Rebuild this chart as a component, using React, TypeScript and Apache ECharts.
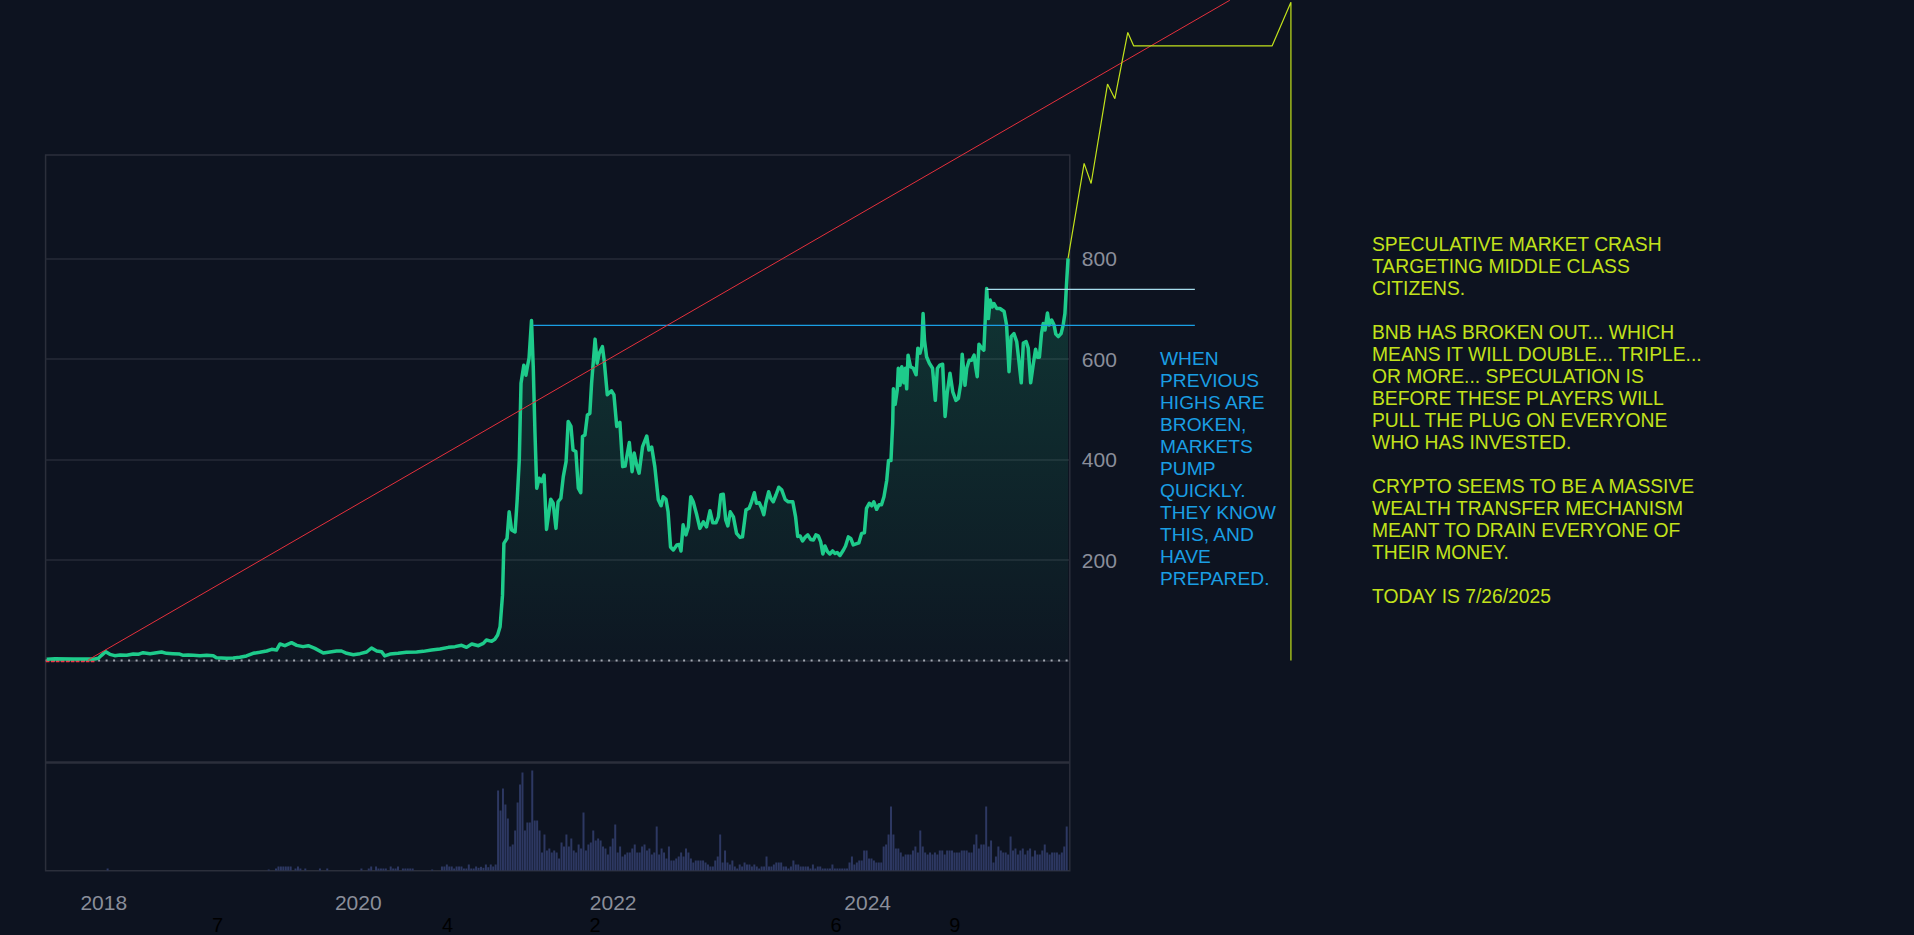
import React, { useEffect, useRef } from 'react';
import * as echarts from 'echarts';

// ---------- DATA ----------
const X_RANGE = ['2017-07-21', '2025-07-31'];
const DRAWING_X_MAX = '2027-07-31';

const PRICE_2017_2020: [string, number][] = [
  ['2017-07-24', 2.1], ['2017-08-17', 3.5], ['2017-10-08', 2.8], ['2017-12-09', 2.8], ['2017-12-19', 4.1], ['2017-12-28', 10.1],
  ['2018-01-09', 17.4], ['2018-01-21', 12.1], ['2018-02-04', 9.4], ['2018-02-19', 10.8], ['2018-03-10', 10.1], ['2018-03-29', 12.7],
  ['2018-04-12', 12.1], ['2018-04-26', 15.4], ['2018-05-16', 13.4], ['2018-05-30', 14.7], ['2018-06-18', 16.7], ['2018-07-02', 14.1],
  ['2018-07-21', 13.4], ['2018-08-09', 12.7], ['2018-08-19', 10.1], ['2018-09-02', 10.8], ['2018-09-17', 10.1], ['2018-10-06', 9.4],
  ['2018-10-25', 10.1], ['2018-11-13', 9.4], ['2018-11-22', 5.4], ['2018-12-21', 4.1],
  ['2019-01-09', 4.8], ['2019-01-28', 6.1], ['2019-02-16', 8.8], ['2019-03-07', 14.1], ['2019-03-26', 16.1], ['2019-04-15', 18.7],
  ['2019-04-29', 22], ['2019-05-13', 20.7], ['2019-05-23', 32.7], ['2019-06-06', 29.3], ['2019-06-25', 35.3], ['2019-07-10', 30],
  ['2019-07-28', 27.4], ['2019-08-12', 29.3], ['2019-08-31', 24], ['2019-09-24', 14.7], ['2019-10-13', 16.7], ['2019-11-01', 18.7],
  ['2019-11-15', 18.7], ['2019-11-30', 14.1], ['2019-12-19', 11.4],
  ['2020-01-07', 13.4], ['2020-01-26', 16.7], ['2020-02-09', 24.7], ['2020-02-24', 18.7], ['2020-03-09', 17.4], ['2020-03-18', 8.8],
  ['2020-04-02', 12.7], ['2020-04-25', 14.1], ['2020-05-19', 16.1], ['2020-06-17', 16.7], ['2020-07-06', 18], ['2020-07-30', 20.7],
  ['2020-08-23', 22.7], ['2020-09-16', 26], ['2020-10-05', 27.4], ['2020-10-24', 30], ['2020-11-07', 26], ['2020-11-22', 32.7],
  ['2020-12-11', 29.3], ['2020-12-25', 34],
];

const PRICE_2021: [string, number][] = [
  ['2021-01-03', 40.6], ['2021-01-18', 38], ['2021-01-27', 42], ['2021-02-04', 50.6], ['2021-02-11', 67], ['2021-02-18', 130],
  ['2021-02-22', 233], ['2021-03-03', 243], ['2021-03-09', 296], ['2021-03-16', 260], ['2021-03-26', 256], ['2021-04-01', 320],
  ['2021-04-07', 399], ['2021-04-12', 552], ['2021-04-20', 588], ['2021-04-26', 568], ['2021-05-01', 588], ['2021-05-05', 602],
  ['2021-05-12', 677], ['2021-05-17', 585], ['2021-05-22', 452], ['2021-05-27', 343], ['2021-06-03', 363], ['2021-06-10', 356],
  ['2021-06-17', 369], ['2021-06-24', 261], ['2021-07-06', 321], ['2021-07-13', 313], ['2021-07-21', 263], ['2021-07-27', 316],
  ['2021-08-04', 323], ['2021-08-11', 366], ['2021-08-19', 396], ['2021-08-25', 476], ['2021-09-02', 466], ['2021-09-08', 419],
  ['2021-09-16', 416], ['2021-09-23', 343], ['2021-09-30', 334], ['2021-10-05', 446], ['2021-10-12', 449], ['2021-10-19', 489],
  ['2021-10-26', 492], ['2021-10-31', 552], ['2021-11-10', 640], ['2021-11-16', 592], ['2021-11-22', 612], ['2021-12-01', 625],
  ['2021-12-06', 598], ['2021-12-15', 529], ['2021-12-27', 537],
];

const PRICE_2022: [string, number][] = [
  ['2022-01-03', 529], ['2022-01-11', 466], ['2022-01-20', 474], ['2022-01-28', 386], ['2022-02-04', 387], ['2022-02-16', 434],
  ['2022-02-24', 376], ['2022-03-02', 413], ['2022-03-09', 389], ['2022-03-16', 373], ['2022-03-26', 426], ['2022-04-07', 447],
  ['2022-04-13', 419], ['2022-04-21', 425], ['2022-04-30', 386], ['2022-05-10', 320], ['2022-05-18', 308], ['2022-05-24', 326],
  ['2022-06-01', 321], ['2022-06-07', 296], ['2022-06-14', 226], ['2022-06-22', 220], ['2022-07-02', 230], ['2022-07-09', 231],
  ['2022-07-14', 218], ['2022-07-20', 270], ['2022-07-28', 250], ['2022-08-04', 266], ['2022-08-11', 326], ['2022-08-18', 316],
  ['2022-08-28', 290], ['2022-09-06', 263], ['2022-09-16', 276], ['2022-09-25', 266], ['2022-10-05', 298], ['2022-10-13', 274],
  ['2022-10-22', 274], ['2022-10-29', 286], ['2022-11-05', 330], ['2022-11-12', 331], ['2022-11-19', 280], ['2022-11-25', 268],
  ['2022-12-02', 296], ['2022-12-11', 286], ['2022-12-20', 253], ['2022-12-30', 245],
];

const PRICE_2023: [string, number][] = [
  ['2023-01-06', 246], ['2023-01-16', 300], ['2023-01-25', 303], ['2023-02-01', 316], ['2023-02-09', 334], ['2023-02-15', 313],
  ['2023-02-23', 314], ['2023-03-02', 303], ['2023-03-08', 290], ['2023-03-14', 314], ['2023-03-22', 336], ['2023-03-28', 323],
  ['2023-04-04', 316], ['2023-04-12', 330], ['2023-04-20', 345], ['2023-04-28', 340], ['2023-05-08', 321], ['2023-05-17', 316],
  ['2023-05-30', 316], ['2023-06-07', 286], ['2023-06-13', 247], ['2023-06-20', 248], ['2023-06-27', 238], ['2023-07-04', 245],
  ['2023-07-12', 250], ['2023-07-20', 241], ['2023-07-28', 240], ['2023-08-04', 250], ['2023-08-11', 248], ['2023-08-18', 236],
  ['2023-08-24', 212], ['2023-08-30', 228], ['2023-09-06', 217], ['2023-09-13', 212], ['2023-09-21', 218], ['2023-09-28', 213],
  ['2023-10-04', 215], ['2023-10-12', 209], ['2023-10-22', 220], ['2023-10-28', 228], ['2023-11-05', 246], ['2023-11-12', 243],
  ['2023-11-19', 230], ['2023-11-27', 232], ['2023-12-05', 234], ['2023-12-13', 253], ['2023-12-21', 254], ['2023-12-27', 303],
];

const PRICE_2024: [string, number][] = [
  ['2024-01-04', 313], ['2024-01-11', 308], ['2024-01-17', 316], ['2024-01-25', 301], ['2024-02-01', 310], ['2024-02-08', 310],
  ['2024-02-15', 326], ['2024-02-23', 359], ['2024-02-28', 398], ['2024-03-06', 398], ['2024-03-11', 472], ['2024-03-13', 541],
  ['2024-03-18', 510], ['2024-03-24', 538], ['2024-03-27', 582], ['2024-04-01', 548], ['2024-04-06', 585], ['2024-04-12', 553],
  ['2024-04-16', 582], ['2024-04-20', 541], ['2024-04-24', 608], ['2024-05-01', 585], ['2024-05-09', 582], ['2024-05-17', 569],
  ['2024-05-22', 622], ['2024-05-28', 612], ['2024-06-02', 625], ['2024-06-06', 691], ['2024-06-10', 638], ['2024-06-16', 605],
  ['2024-06-24', 592], ['2024-07-03', 582], ['2024-07-11', 518], ['2024-07-17', 582], ['2024-07-24', 588], ['2024-08-01', 590],
  ['2024-08-08', 486], ['2024-08-14', 532], ['2024-08-22', 572], ['2024-08-30', 535], ['2024-09-08', 518], ['2024-09-15', 522],
  ['2024-09-22', 552], ['2024-09-26', 610], ['2024-10-04', 548], ['2024-10-09', 582], ['2024-10-16', 598], ['2024-10-23', 598],
  ['2024-10-30', 608], ['2024-11-04', 582], ['2024-11-08', 565], ['2024-11-13', 630], ['2024-11-21', 622], ['2024-11-27', 618],
  ['2024-12-02', 695], ['2024-12-05', 741], ['2024-12-10', 681], ['2024-12-15', 718], ['2024-12-21', 704], ['2024-12-26', 711],
];

const PRICE_2025: [string, number][] = [
  ['2025-01-03', 701], ['2025-01-12', 701], ['2025-01-24', 695], ['2025-01-31', 668], ['2025-02-07', 575], ['2025-02-13', 645],
  ['2025-02-21', 651], ['2025-03-01', 635], ['2025-03-08', 592], ['2025-03-14', 553], ['2025-03-20', 632], ['2025-03-28', 635],
  ['2025-04-03', 622], ['2025-04-10', 553], ['2025-04-17', 588], ['2025-04-24', 620], ['2025-04-29', 604], ['2025-05-05', 604],
  ['2025-05-11', 651], ['2025-05-16', 671], ['2025-05-21', 658], ['2025-05-28', 692], ['2025-06-02', 668], ['2025-06-09', 678],
  ['2025-06-16', 668], ['2025-06-21', 650], ['2025-06-28', 645], ['2025-07-06', 651], ['2025-07-12', 668], ['2025-07-17', 691],
  ['2025-07-22', 754], ['2025-07-26', 801],
];

// weekly volume bars (relative units), first bar on VOLUME_START
const VOLUME_START = '2017-07-21';
const VOLUME_2017_2020 = [
  0, 0, 0, 0, 0, 0, 0, 0, 0, 0,
  0, 0, 0, 0, 0, 0, 0, 0, 0, 0,
  0, 0, 0, 0, 0, 2, 0, 0, 0, 0,
  0, 0, 0, 0, 0, 0, 0, 0, 0, 0,
  0, 0, 0, 0, 0, 0, 0, 0, 0, 0,
  0, 0, 0, 0, 0, 0, 0, 0, 0, 0,
  0, 0, 0, 0, 0, 0, 0, 0, 0, 0,
  0, 0, 0, 0, 0, 0, 0, 0, 0, 0,
  0, 0, 0, 0, 0, 0, 0, 0, 0, 0,
  0, 1, 0, 0, 2, 4, 4, 4, 4, 4,
  4, 0, 2, 4, 2, 0, 2, 0, 0, 0,
  0, 0, 2, 0, 0, 2, 0, 0, 0, 0,
  0, 0, 0, 0, 0, 0, 0, 0, 0, 2,
  0, 0, 2, 4, 0, 4, 2, 2, 2, 2,
  0, 4, 2, 2, 4, 0, 2, 2, 2, 2,
  2, 0, 0, 0, 0, 0, 0, 0, 1, 0,
  0, 0, 4, 4, 6, 4, 4, 2, 4, 4,
  4, 2, 2, 6, 2, 2, 4,
];
const VOLUME_2021_2023 = [
  2.7, 3.7, 2.7, 6, 3.3, 6, 4, 6, 80, 60,
  82, 66, 52, 24, 26, 40, 68, 86, 98, 40,
  48, 48, 100, 50, 50, 40, 18, 36, 20, 22,
  18, 20, 18, 12, 28, 24, 36, 24, 32, 20,
  18, 26, 22, 58, 20, 26, 28, 40, 30, 32,
  30, 24, 22, 16, 24, 32, 46, 18, 24, 14,
  16, 18, 18, 22, 26, 18, 18, 24, 26, 20,
  22, 16, 18, 44, 16, 22, 18, 12, 24, 10,
  10, 12, 14, 18, 14, 22, 18, 12, 8, 10,
  10, 10, 10, 8, 6, 4, 4, 10, 14, 36,
  8, 20, 8, 6, 10, 4, 2, 6, 4, 8,
  6, 6, 4, 6, 4, 2, 4, 4, 14, 4,
  4, 6, 8,
];
const VOLUME_2023_2025 = [
  8, 8, 4, 4, 2, 4, 10, 6, 6, 4,
  4, 4, 4, 2, 6, 2, 4, 4, 2, 2,
  2, 2, 6, 2, 2, 2, 2, 2, 2, 8,
  14, 6, 8, 10, 10, 20, 20, 12, 12, 10,
  8, 8, 8, 24, 26, 36, 64, 36, 22, 22,
  18, 14, 16, 16, 16, 20, 24, 18, 40, 24,
  18, 16, 18, 16, 18, 16, 20, 20, 16, 20,
  20, 20, 18, 18, 18, 20, 20, 20, 18, 18,
  26, 36, 22, 26, 26, 64, 24, 30, 8, 14,
  24, 20, 18, 18, 16, 34, 20, 22, 16, 20,
  22, 16, 20, 22, 14, 20, 16, 16, 20, 26,
  18, 16, 18, 18, 18, 16, 18, 24, 44,
];

// drawings
const TREND_LINE: [string, number][] = [['2017-11-20', 1], ['2026-11-01', 1315]];
const START_MARK: [string, number][] = [['2017-07-22', -1.2], ['2017-12-09', -1.2]];
const PREVIOUS_HIGH: [string, number][] = [['2021-05-17', 667.5], ['2026-07-24', 667.5]];
const RECENT_HIGH: [string, number][] = [['2024-12-05', 739], ['2026-07-24', 739]];
const PROJECTION: [string, number][] = [
  ['2025-07-26', 801], ['2025-09-10', 990], ['2025-09-30', 950], ['2025-11-16', 1148], ['2025-12-07', 1119],
  ['2026-01-13', 1251], ['2026-01-30', 1224], ['2027-03-02', 1224], ['2027-04-25', 1311], ['2027-04-25', 0],
];

const PRICE_MIN = -200;
const PRICE_MAX = 1000;
const PRICE_STEP = 200;
const VOLUME_MAX = 107;

const NOTE_BLUE = [
  'WHEN', 'PREVIOUS', 'HIGHS ARE', 'BROKEN,', 'MARKETS', 'PUMP', 'QUICKLY.', 'THEY KNOW', 'THIS, AND', 'HAVE', 'PREPARED.',
];
const NOTE_YELLOW = [
  'SPECULATIVE MARKET CRASH', 'TARGETING MIDDLE CLASS', 'CITIZENS.', '',
  'BNB HAS BROKEN OUT... WHICH', 'MEANS IT WILL DOUBLE... TRIPLE...', 'OR MORE... SPECULATION IS',
  'BEFORE THESE PLAYERS WILL', 'PULL THE PLUG ON EVERYONE', 'WHO HAS INVESTED.', '',
  'CRYPTO SEEMS TO BE A MASSIVE', 'WEALTH TRANSFER MECHANISM', 'MEANT TO DRAIN EVERYONE OF', 'THEIR MONEY.', '',
  'TODAY IS 7/26/2025',
];
const MARKER_TEXTS = ['7', '4', '2', '6', '9'];

// ---------- STYLE ----------
const BG = '#0D1320';
const GRID_COLOR = '#262B37';
const BORDER_COLOR = '#2B2F3B';
const LABEL_COLOR = '#8A8E9A';
const GREEN = '#1ECB8B';
const BLUE = '#1A9EE3';
const YELLOW = '#C2E21B';
const FONT = '"Liberation Sans", Arial, Helvetica, sans-serif';
const MARKER_X = [217.5, 447.6, 595, 836, 954.8];

function toTs(s: string): number {
  const [y, m, d] = s.split('-').map(Number);
  return new Date(y, m - 1, d).getTime();
}
const pts = (arr: [string, number][]) => arr.map(([d, v]) => [toTs(d), v]);

export default function App() {
  const ref = useRef<HTMLDivElement>(null);

  useEffect(() => {
    if (!ref.current) return;
    const chart = echarts.init(ref.current, undefined, { renderer: 'svg' });

    const price = pts([...PRICE_2017_2020, ...PRICE_2021, ...PRICE_2022, ...PRICE_2023, ...PRICE_2024, ...PRICE_2025]);
    const volumeValues = [...VOLUME_2017_2020, ...VOLUME_2021_2023, ...VOLUME_2023_2025];
    const v0 = toTs(VOLUME_START);
    const volume = volumeValues.map((v, i) => [v0 + i * 7 * 86400000, v]);
    const xMin = toTs(X_RANGE[0]);
    const xMax = toTs(X_RANGE[1]);
    const xMaxDraw = toTs(DRAWING_X_MAX);

    const gridLeft = 45.6;
    const gridWidth = 1024.2;
    const priceTop = 158.4;
    const priceHeight = 602.4;
    // drawing layer: same scale as the price pane, extended to the right
    const drawWidth = (gridWidth * (xMaxDraw - xMin)) / (xMax - xMin);

    const lineSeries = (data: number[][], color: string, width: number, z: number, extra: any = {}, axis = 2) => ({
      type: 'line',
      xAxisIndex: axis,
      yAxisIndex: axis,
      data,
      symbol: 'none',
      silent: true,
      clip: false,
      z,
      lineStyle: { color, width, ...extra },
    });

    const option: any = {
      animation: false,
      backgroundColor: BG,
      grid: [
        { left: gridLeft, width: gridWidth, top: priceTop, height: priceHeight, show: false },
        { left: gridLeft, width: gridWidth, top: 763.5, height: 107, show: false },
        { left: gridLeft, width: drawWidth, top: priceTop, height: priceHeight, show: false },
      ],
      xAxis: [
        {
          type: 'time', gridIndex: 0, min: xMin, max: xMax,
          axisLine: { show: false }, axisTick: { show: false }, axisLabel: { show: false }, splitLine: { show: false },
        },
        {
          type: 'time', gridIndex: 1, min: xMin, max: xMax,
          axisLine: { show: false }, axisTick: { show: false }, splitLine: { show: false },
          axisLabel: {
            color: LABEL_COLOR, fontSize: 21, fontFamily: FONT, margin: 21, hideOverlap: false,
            formatter: (val: number) => {
              const d = new Date(val);
              return d.getMonth() === 0 && d.getDate() === 1 && d.getFullYear() % 2 === 0 ? String(d.getFullYear()) : '';
            },
          },
        },
        { type: 'time', gridIndex: 2, min: xMin, max: xMaxDraw, show: false },
      ],
      yAxis: [
        {
          type: 'value', gridIndex: 0, position: 'right', min: PRICE_MIN, max: PRICE_MAX, interval: PRICE_STEP,
          axisLine: { show: false }, axisTick: { show: false },
          axisLabel: {
            color: LABEL_COLOR, fontSize: 21, fontFamily: FONT, margin: 12,
            formatter: (v: number) => (v > 0 && v < PRICE_MAX ? String(v) : ''),
          },
          splitLine: { show: true, showMinLine: false, showMaxLine: false, lineStyle: { color: GRID_COLOR, width: 1.5 } },
        },
        { type: 'value', gridIndex: 1, min: 0, max: VOLUME_MAX, show: false, splitLine: { show: false } },
        { type: 'value', gridIndex: 2, min: PRICE_MIN, max: PRICE_MAX, show: false, splitLine: { show: false } },
      ],
      series: [
        {
          type: 'bar', xAxisIndex: 1, yAxisIndex: 1, data: volume, barWidth: 2, silent: true,
          itemStyle: { color: '#2D3862' }, z: 2,
        },
        lineSeries([[xMin, 0], [xMax, 0]], '#A3A7B2', 2, 2, { type: [2, 5.5] }, 0),
        lineSeries(pts(START_MARK), '#F23645', 2.5, 2, { type: [3.5, 1.5] }, 0),
        {
          type: 'line', xAxisIndex: 0, yAxisIndex: 0, data: price, symbol: 'none', silent: true, z: 3,
          lineStyle: { color: GREEN, width: 3.5, join: 'round' },
          areaStyle: {
            color: new echarts.graphic.LinearGradient(0, 0, 0, 1, [
              { offset: 0, color: 'rgba(30,203,139,0.28)' },
              { offset: 1, color: 'rgba(30,203,139,0.03)' },
            ]),
          },
        },
        lineSeries(pts(PREVIOUS_HIGH), BLUE, 1.2, 4),
        lineSeries(pts(RECENT_HIGH), '#A6DCEC', 1.2, 4),
        lineSeries(pts(TREND_LINE), '#E5303C', 1, 5),
        lineSeries(pts(PROJECTION), YELLOW, 1.2, 5),
      ],
      graphic: [
        {
          type: 'rect', silent: true, z: 0,
          shape: { x: gridLeft, y: 155, width: gridWidth, height: 715.7 },
          style: { fill: 'none', stroke: BORDER_COLOR, lineWidth: 1.5 },
        },
        {
          type: 'line', silent: true, z: 0,
          shape: { x1: gridLeft, y1: 762.6, x2: gridLeft + gridWidth, y2: 762.6 },
          style: { stroke: BORDER_COLOR, lineWidth: 2.5 },
        },
        {
          type: 'text', x: 1160, y: 347.7, silent: true,
          style: { text: NOTE_BLUE.join('\n'), fill: BLUE, fontSize: 19.2, fontFamily: FONT, lineHeight: 22, verticalAlign: 'top', align: 'left' },
        },
        {
          type: 'text', x: 1372, y: 233.6, silent: true,
          style: { text: NOTE_YELLOW.join('\n'), fill: YELLOW, fontSize: 19.3, fontFamily: FONT, lineHeight: 22, verticalAlign: 'top', align: 'left' },
        },
        ...MARKER_TEXTS.map((t, i) => ({
          type: 'text', x: MARKER_X[i], y: 924.5, silent: true,
          style: { text: t, fill: '#000000', fontSize: 20, fontFamily: FONT, align: 'center', verticalAlign: 'middle' },
        })),
      ],
    };

    chart.setOption(option);
    return () => chart.dispose();
  }, []);

  return (
    <div
      ref={ref}
      style={{ position: 'absolute', left: 0, top: 0, width: 1914, height: 935, background: BG }}
    />
  );
}
